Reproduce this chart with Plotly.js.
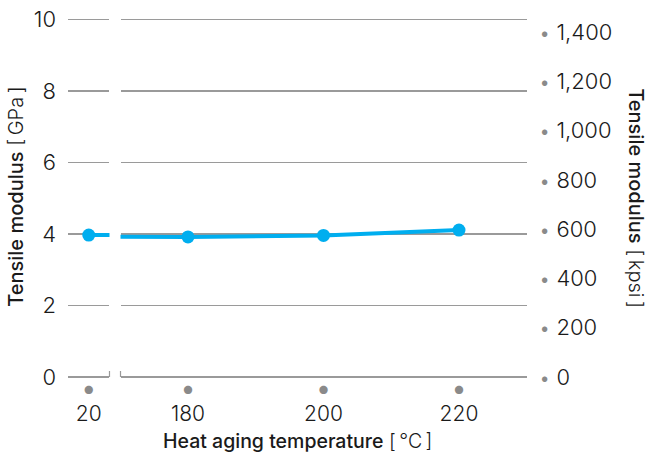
<!DOCTYPE html>
<html>
<head>
<meta charset="utf-8">
<script src="https://cdn.plot.ly/plotly-3.0.1.min.js"></script>
<style>html,body{margin:0;padding:0;background:#fff;}#chart{width:650px;height:454px;}</style>
</head>
<body>
<div id="chart"></div>
<script>
// ---- data ----
const temps = [20, 180, 200, 220];
const tempLabels = ['20', '180', '200', '220'];
const modulusGPa = [3.97, 3.92, 3.96, 4.11];
const gpaTicks = [0, 2, 4, 6, 8, 10];
const kpsiTicks = [0, 200, 400, 600, 800, 1000, 1200, 1400];
const kpsiLabels = ['0', '200', '400', '600', '800', '1,000', '1,200', '1,400'];
const GPA_TO_KPSI = 145.038;

const FONT = 'Inter, Roboto, "Liberation Sans", Arial, sans-serif';
const TXT = '#1a1a1a';
const GRID = '#9a9a9a';
const BLUE = '#00AEEF';
const XDOT = '<span style="color:#8a8a8a;font-size:11px">●</span>';
const YDOT = '<span style="color:#8a8a8a;font-size:20px">•</span>';

const lineStyle = {color: BLUE, width: 4};
const markerStyle = {color: BLUE, size: 13};

const traces = [
  {x: temps, y: modulusGPa, xaxis: 'x', yaxis: 'y', mode: 'lines+markers',
   line: lineStyle, marker: markerStyle, cliponaxis: true, hoverinfo: 'skip'},
  {x: temps, y: modulusGPa, xaxis: 'x2', yaxis: 'y', mode: 'lines+markers',
   line: lineStyle, marker: markerStyle, cliponaxis: true, hoverinfo: 'skip'},
  // same series in kpsi, invisible, only to carry the right-hand axis
  {x: temps, y: modulusGPa.map(v => v * GPA_TO_KPSI), xaxis: 'x2', yaxis: 'y2', mode: 'lines',
   line: {width: 0}, opacity: 0, hoverinfo: 'skip'}
];

const TICKFONT = {family: FONT, size: 22, color: TXT, weight: 300};
const XTICKFONT = {family: FONT, size: 21, color: TXT, weight: 300};
const TITLEFONT = {family: FONT, size: 20, color: TXT, weight: 300};

const xTickText = tempLabels.map(t => XDOT + '<br>' + t);
const xCommon = {
  tickvals: temps, ticktext: xTickText, showgrid: false, zeroline: false,
  showline: false, ticks: '', tickfont: XTICKFONT, ticklabelstandoff: -5, fixedrange: true
};
const TOP = 10.1;

const layout = {
  width: 650, height: 454,
  margin: {l: 68, r: 123, t: 16, b: 77},
  paper_bgcolor: '#fff', plot_bgcolor: '#fff',
  showlegend: false,
  font: {family: FONT, color: TXT},
  xaxis: Object.assign({}, xCommon, {domain: [0, 0.0904], range: [17, 23], anchor: 'y'}),
  xaxis2: Object.assign({}, xCommon, {domain: [0.1144, 1], range: [170.04, 230.04], anchor: 'y'}),
  yaxis: {
    range: [0, TOP], tickvals: gpaTicks, showgrid: true, gridcolor: GRID, gridwidth: 1.3,
    zeroline: true, zerolinecolor: GRID, zerolinewidth: 1.3, showline: false, ticks: '',
    ticklabelstandoff: 11, tickfont: TICKFONT,
    title: {text: '<span style="font-weight:500">Tensile modulus</span> [\u2009GPa\u2009]',
            font: TITLEFONT, standoff: 4},
    anchor: 'x', fixedrange: true
  },
  yaxis2: {
    overlaying: 'y', side: 'right', anchor: 'x2',
    range: [0, TOP * GPA_TO_KPSI], tickvals: kpsiTicks,
    ticktext: kpsiLabels.map(t => YDOT + ' ' + t),
    showgrid: false, zeroline: false, showline: false, ticks: '',
    ticklabelstandoff: 11, tickfont: TICKFONT, fixedrange: true
  },
  shapes: [
    {type: 'line', xref: 'x domain', x0: 1, x1: 1, yref: 'y', ysizemode: 'pixel', yanchor: 0,
     y0: -6, y1: 6, line: {color: GRID, width: 1.2}},
    {type: 'line', xref: 'x2 domain', x0: 0, x1: 0, yref: 'y', ysizemode: 'pixel', yanchor: 0,
     y0: -6, y1: 6, line: {color: GRID, width: 1.2}}
  ],
  annotations: [
    {text: '<span style="font-weight:500">Heat aging temperature</span> [\u2009°C\u2009]',
     xref: 'paper', yref: 'paper', x: 0.5, y: -0.177, xanchor: 'center', yanchor: 'middle',
     showarrow: false, font: {family: FONT, size: 19.5, color: TXT, weight: 300}},
    {text: '<span style="font-weight:500">Tensile modulus</span> [\u2009kpsi\u2009]',
     xref: 'paper', yref: 'paper', x: 1.2375, y: 0.495, xanchor: 'center', yanchor: 'middle',
     textangle: 90, showarrow: false, font: TITLEFONT}
  ]
};

Plotly.newPlot('chart', traces, layout, {displayModeBar: false, staticPlot: true});
</script>
</body>
</html>
